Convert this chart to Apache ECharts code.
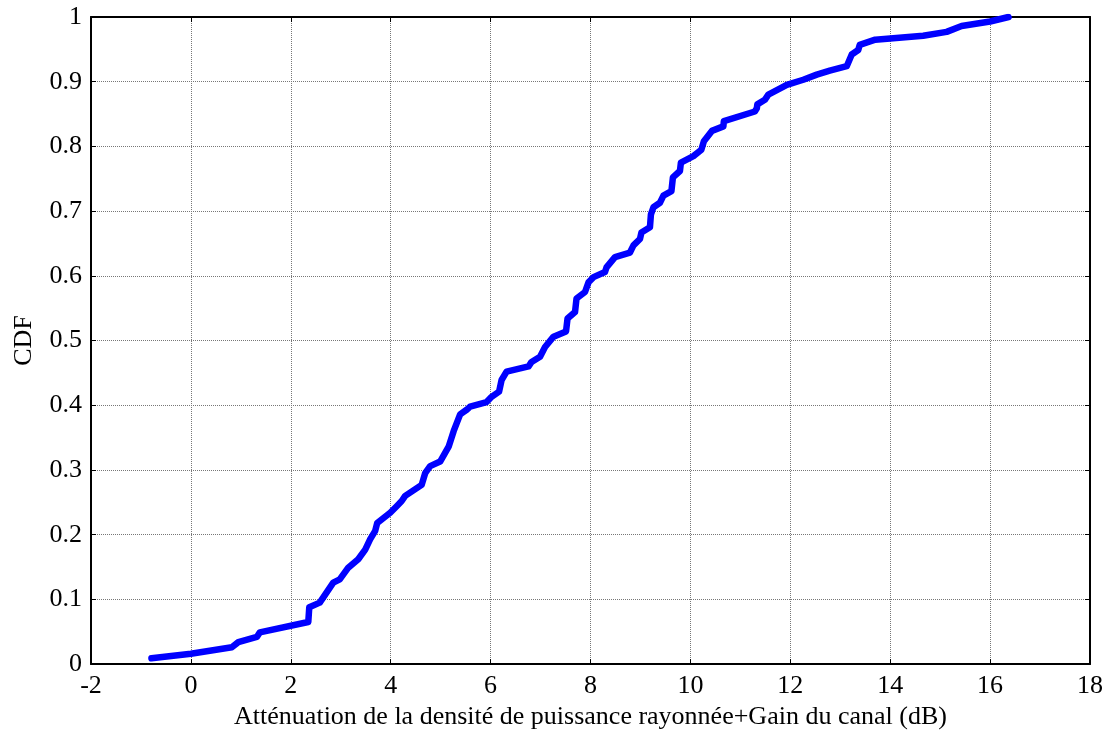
<!DOCTYPE html>
<html>
<head>
<meta charset="utf-8">
<script src="https://cdn.jsdelivr.net/npm/echarts@6/dist/echarts.min.js"></script>
<style>html,body{margin:0;padding:0;background:#fff}#c{width:1109px;height:735px}</style>
</head>
<body>
<div id="c"></div>
<script>
const xValues = [-0.79, -0.79, 0.0, 0.82, 0.95, 1.32, 1.38, 2.35, 2.37, 2.58, 2.85, 2.98, 3.15, 3.35, 3.49, 3.59, 3.69, 3.73, 3.99, 4.12, 4.22, 4.29, 4.62, 4.69, 4.79, 4.99, 5.16, 5.26, 5.39, 5.52, 5.59, 5.92, 6.02, 6.17, 6.22, 6.32, 6.76, 6.82, 6.99, 7.09, 7.26, 7.51, 7.54, 7.69, 7.72, 7.89, 7.96, 8.06, 8.29, 8.32, 8.49, 8.79, 8.86, 8.99, 9.02, 9.19, 9.21, 9.26, 9.39, 9.46, 9.62, 9.65, 9.79, 9.81, 10.06, 10.22, 10.27, 10.43, 10.66, 10.67, 11.29, 11.33, 11.34, 11.49, 11.56, 11.76, 11.93, 12.26, 12.53, 12.79, 13.13, 13.23, 13.36, 13.39, 13.70, 14.66, 15.13, 15.43, 16.0, 16.37];
const cdfValues = [0.0, 0.009, 0.016, 0.026, 0.034, 0.042, 0.049, 0.065, 0.088, 0.095, 0.126, 0.131, 0.149, 0.162, 0.177, 0.193, 0.206, 0.218, 0.234, 0.244, 0.252, 0.26, 0.277, 0.295, 0.306, 0.313, 0.336, 0.36, 0.386, 0.393, 0.398, 0.405, 0.413, 0.421, 0.439, 0.452, 0.46, 0.467, 0.475, 0.49, 0.506, 0.514, 0.534, 0.544, 0.565, 0.575, 0.59, 0.598, 0.606, 0.613, 0.629, 0.636, 0.647, 0.657, 0.667, 0.675, 0.695, 0.706, 0.713, 0.724, 0.731, 0.752, 0.762, 0.775, 0.785, 0.795, 0.808, 0.824, 0.831, 0.839, 0.854, 0.859, 0.865, 0.872, 0.88, 0.888, 0.895, 0.903, 0.911, 0.917, 0.924, 0.942, 0.949, 0.957, 0.965, 0.971, 0.977, 0.986, 0.993, 1.0];
const xTicks = [-2, 0, 2, 4, 6, 8, 10, 12, 14, 16, 18];
const yTicks = [0, 0.1, 0.2, 0.3, 0.4, 0.5, 0.6, 0.7, 0.8, 0.9, 1];
const xTitle = 'Atténuation de la densité de puissance rayonnée+Gain du canal (dB)';
const yTitle = 'CDF';

const pts = xValues.slice(1).map((x, i) => [x, cdfValues[i + 1]]);

const font = 'Liberation Serif, Times New Roman, serif';
const gridLine = { show: true, lineStyle: { color: '#777', width: 1, type: [1, 1] } };
const chart = echarts.init(document.getElementById('c'), null, { renderer: 'canvas' });
chart.setOption({
  backgroundColor: '#fff',
  animation: false,
  grid: { left: 91, right: 19, top: 17, bottom: 68, containLabel: false },
  xAxis: [{
    type: 'value', min: xTicks[0], max: xTicks[xTicks.length - 1], interval: 2, position: 'bottom',
    name: xTitle, nameLocation: 'middle', nameGap: 37,
    nameTextStyle: { fontFamily: font, fontSize: 26, color: '#000' },
    axisLine: { show: true, onZero: false, lineStyle: { color: '#000', width: 2 } },
    axisTick: { show: true, inside: true, length: 5, lineStyle: { color: '#000', width: 1 } },
    axisLabel: { fontFamily: font, fontSize: 26, color: '#000', margin: 9, formatter: v => String(v) },
    splitLine: gridLine
  }, {
    type: 'value', min: xTicks[0], max: xTicks[xTicks.length - 1], interval: 2, position: 'top',
    axisLine: { show: true, onZero: false, lineStyle: { color: '#000', width: 2 } },
    axisTick: { show: true, inside: true, length: 5, lineStyle: { color: '#000', width: 1 } },
    axisLabel: { show: false }, splitLine: { show: false }
  }],
  yAxis: [{
    type: 'value', min: yTicks[0], max: yTicks[yTicks.length - 1], interval: 0.1, position: 'left',
    name: yTitle, nameLocation: 'middle', nameGap: 54,
    nameTextStyle: { fontFamily: font, fontSize: 26, color: '#000' },
    axisLine: { show: true, onZero: false, lineStyle: { color: '#000', width: 2 } },
    axisTick: { show: true, inside: true, length: 5, lineStyle: { color: '#000', width: 1 } },
    axisLabel: { fontFamily: font, fontSize: 26, color: '#000', margin: 9, formatter: v => String(Math.round(v * 10) / 10) },
    splitLine: gridLine
  }, {
    type: 'value', min: yTicks[0], max: yTicks[yTicks.length - 1], interval: 0.1, position: 'right',
    axisLine: { show: true, onZero: false, lineStyle: { color: '#000', width: 2 } },
    axisTick: { show: true, inside: true, length: 5, lineStyle: { color: '#000', width: 1 } },
    axisLabel: { show: false }, splitLine: { show: false }
  }],
  series: [{
    type: 'line', xAxisIndex: 0, yAxisIndex: 0,
    data: pts, showSymbol: false, symbol: 'none', smooth: false,
    lineStyle: { color: '#0000ff', width: 6.5, join: 'round', cap: 'round' },
    z: 5
  }]
});
</script>
</body>
</html>
